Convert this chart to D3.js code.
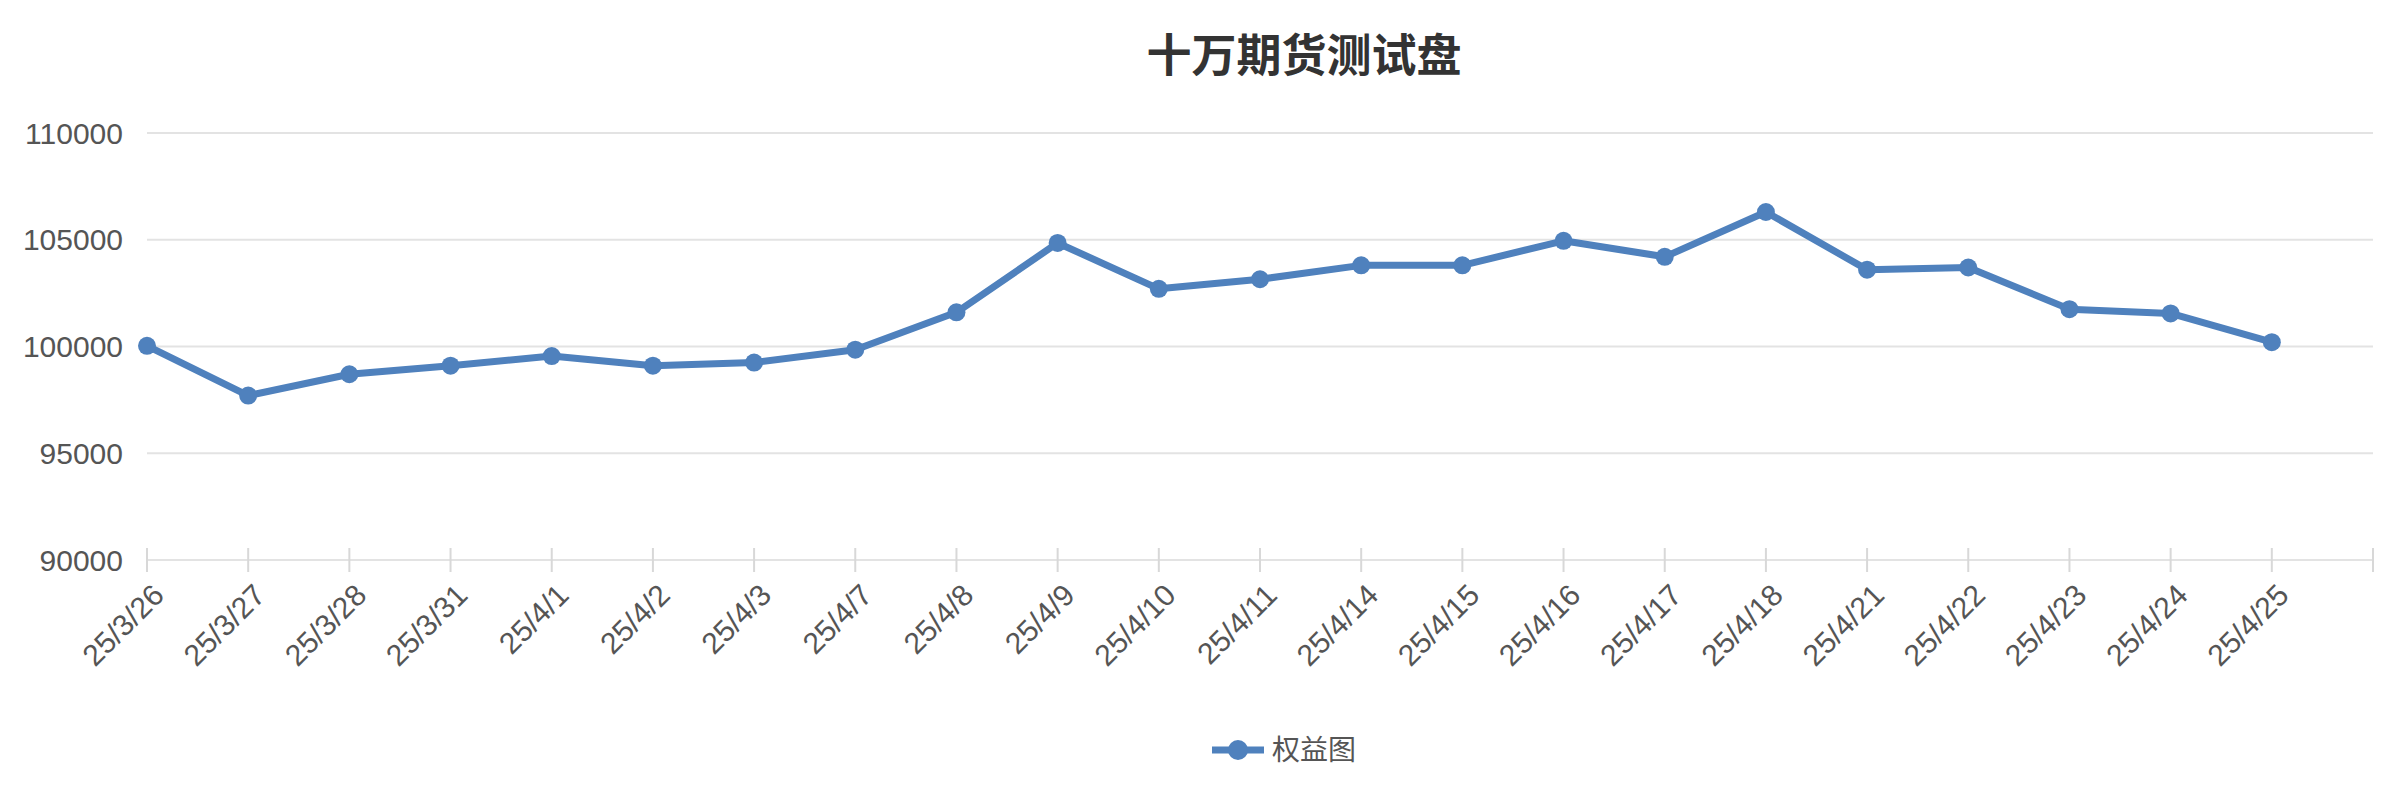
<!DOCTYPE html>
<html><head><meta charset="utf-8">
<script src="https://cdn.jsdelivr.net/npm/d3@7"></script>
<style>body{margin:0;background:#fff}</style>
</head><body>
<div id="chart"></div>
<script>
// Datos
const dates = ["25/3/26","25/3/27","25/3/28","25/3/31","25/4/1","25/4/2","25/4/3","25/4/7","25/4/8","25/4/9","25/4/10",
  "25/4/11","25/4/14","25/4/15","25/4/16","25/4/17","25/4/18","25/4/21","25/4/22","25/4/23","25/4/24","25/4/25"];
const equity = [100030,97700,98700,99100,99550,99100,99250,99850,101600,104850,102700,
  103150,103800,103800,104950,104200,106300,103600,103700,101750,101550,100200];
const yTicks = [90000,95000,100000,105000,110000];
const seriesName = "权益图";
const title = "十万期货测试盘";

const W = 2398, H = 798;
const margin = { top: 133, right: 25, bottom: 238, left: 147 };
const width = W - margin.left - margin.right;
const height = H - margin.top - margin.bottom;
const color = "#4f81bd";
const font = "'Liberation Sans', Arial, sans-serif";

const svg = d3.select("#chart").append("svg")
  .attr("width", W).attr("height", H)
  .style("font-family", font);

svg.append("text")
  .attr("x", 1304).attr("y", 72)
  .attr("text-anchor", "middle")
  .style("font-family", "'Noto Sans CJK SC', sans-serif")
  .style("font-size", "45px").style("font-weight", "bold")
  .attr("fill", "#333").text(title);

const g = svg.append("g").attr("transform", `translate(${margin.left},${margin.top})`);

// one extra slot at the end, like the reference
const slots = dates.concat([""]);
const x = d3.scalePoint().domain(d3.range(slots.length)).range([0, width]);
const y = d3.scaleLinear().domain([90000, 110000]).range([height, 0]);

// grid
g.selectAll(".grid").data(yTicks).enter().append("line")
  .attr("x1", 0).attr("x2", width)
  .attr("y1", d => y(d)).attr("y2", d => y(d))
  .attr("stroke", "#e3e3e3").attr("stroke-width", 2);

// y labels
g.selectAll(".ylab").data(yTicks).enter().append("text")
  .attr("x", -24).attr("y", d => y(d)).attr("dy", "0.35em")
  .attr("text-anchor", "end").attr("fill", "#555")
  .style("font-size", "30px").text(d => d);

// x axis ticks
g.selectAll(".xtick").data(d3.range(slots.length)).enter().append("line")
  .attr("x1", d => x(d)).attr("x2", d => x(d))
  .attr("y1", height - 12).attr("y2", height + 12)
  .attr("stroke", "#d8d8d8").attr("stroke-width", 2);

g.selectAll(".xlab").data(dates).enter().append("text")
  .attr("transform", (d, i) => `translate(${x(i) + 4},${height + 22}) rotate(-45)`)
  .attr("text-anchor", "end").attr("dy", "0.7em")
  .attr("fill", "#555").style("font-size", "30px").text(d => d);

// line
const line = d3.line().x((d, i) => x(i)).y(d => y(d));
g.append("path").datum(equity)
  .attr("d", line).attr("fill", "none")
  .attr("stroke", color).attr("stroke-width", 7).attr("stroke-linejoin", "round");

g.selectAll(".pt").data(equity).enter().append("circle")
  .attr("cx", (d, i) => x(i)).attr("cy", d => y(d))
  .attr("r", 9).attr("fill", color);

// legend
const lg = svg.append("g").attr("transform", `translate(1212,750)`);
lg.append("line").attr("x1", 0).attr("x2", 52).attr("stroke", color).attr("stroke-width", 7);
lg.append("circle").attr("cx", 26).attr("r", 10).attr("fill", color);
lg.append("text").attr("x", 60).attr("dy", "0.35em")
  .style("font-family", "'Noto Sans CJK SC', sans-serif")
  .style("font-size", "28px").attr("fill", "#555").text(seriesName);
</script>
</body></html>
